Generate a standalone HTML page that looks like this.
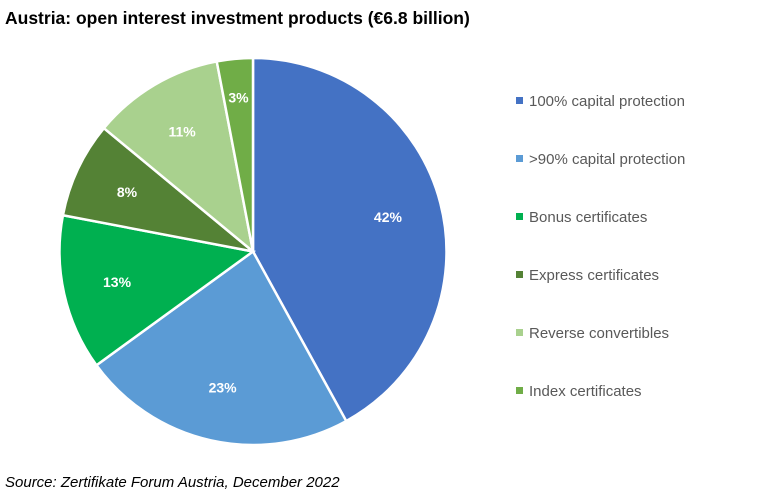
<!DOCTYPE html>
<html><head><meta charset="utf-8"><style>
body{margin:0;background:#fff;width:769px;height:494px;overflow:hidden;font-family:"Liberation Sans",sans-serif;}
</style></head><body>
<svg width="769" height="494" xmlns="http://www.w3.org/2000/svg">
<text x="5" y="24" font-size="17.5" font-weight="bold" fill="#000">Austria: open interest investment products (€6.8 billion)</text>
<g id="pie"></g>
<g id="legend"></g>
<text x="5" y="487" font-size="15" font-style="italic" fill="#000">Source: Zertifikate Forum Austria, December 2022</text>
</svg>
<script>
const categories=["100% capital protection",">90% capital protection","Bonus certificates","Express certificates","Reverse convertibles","Index certificates"];
const values=[42,23,13,8,11,3];
const colors=["#4472C4","#5B9BD5","#00B050","#548235","#A9D18E","#70AD47"];
const NS="http://www.w3.org/2000/svg";
const cx=253,cy=251.5,r=193.5;
const pie=document.getElementById('pie'),leg=document.getElementById('legend');
const total=values.reduce((a,b)=>a+b,0);
function pt(a,rad){return [cx+rad*Math.sin(a),cy-rad*Math.cos(a)];}
let acc=0;
values.forEach((v,i)=>{
  const a0=acc/total*2*Math.PI; acc+=v; const a1=acc/total*2*Math.PI;
  const p0=pt(a0,r),p1=pt(a1,r);
  const path=document.createElementNS(NS,'path');
  path.setAttribute('d',`M${cx},${cy}L${p0[0]},${p0[1]}A${r},${r} 0 ${a1-a0>Math.PI?1:0} 1 ${p1[0]},${p1[1]}Z`);
  path.setAttribute('fill',colors[i]);path.setAttribute('stroke','#fff');path.setAttribute('stroke-width','2.5');
  
  
  pie.appendChild(path);
  const m=(a0+a1)/2;const lr=(v<5)?0.8*r:0.72*r;const lp=pt(m,lr);
  const t=document.createElementNS(NS,'text');
  t.setAttribute('x',lp[0]);t.setAttribute('y',lp[1]+5);t.setAttribute('text-anchor','middle');
  t.setAttribute('font-size','14');t.setAttribute('font-weight','bold');t.setAttribute('fill','#fff');
  t.textContent=v+'%';
  
  
  pie.appendChild(t);
  const y=101+i*58;
  const g=document.createElementNS(NS,'g');
  
  
  const s=document.createElementNS(NS,'rect');
  s.setAttribute('x',516);s.setAttribute('y',y-4);s.setAttribute('width',7);s.setAttribute('height',7);s.setAttribute('fill',colors[i]);
  g.appendChild(s);
  const lt=document.createElementNS(NS,'text');
  lt.setAttribute('x',529);lt.setAttribute('y',y+5);lt.setAttribute('font-size','15');lt.setAttribute('fill','#595959');
  lt.textContent=categories[i];
  g.appendChild(lt);
  leg.appendChild(g);
});
</script>
</body></html>
